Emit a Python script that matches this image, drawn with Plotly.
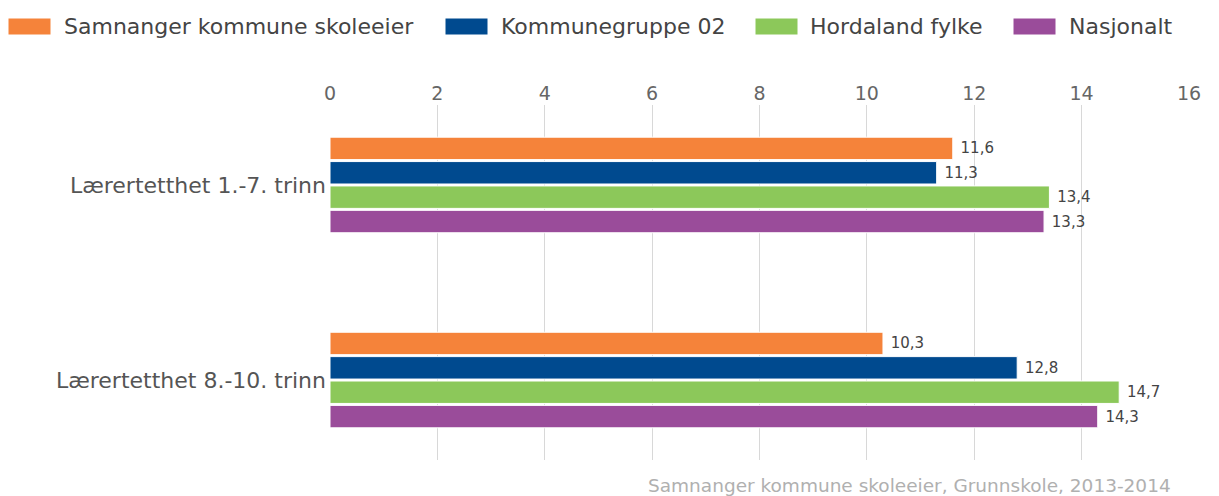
import plotly.graph_objects as go

categories = ["Lærertetthet 1.-7. trinn", "Lærertetthet 8.-10. trinn"]
series_names = ["Samnanger kommune skoleeier", "Kommunegruppe 02", "Hordaland fylke", "Nasjonalt"]
samnanger = [11.6, 10.3]
kommunegruppe = [11.3, 12.8]
hordaland = [13.4, 14.7]
nasjonalt = [13.3, 14.3]
x_ticks = [0, 2, 4, 6, 8, 10, 12, 14, 16]
credit = "Samnanger kommune skoleeier, Grunnskole, 2013-2014"

colors = ["#f5833a", "#004a8f", "#8cc85a", "#9a4c9a"]
values = [samnanger, kommunegruppe, hordaland, nasjonalt]

# page body has an 8px margin; compensate so the figure fills the window
OFF = 8
W, H = 1219 - OFF, 496 - OFF
L, R, T, B = 330 - OFF, 30, 105 - OFF, 36
PW, PH = W - L - R, H - T - B


def px(xs):  # screen x pixel -> paper x
    return (xs - OFF - L) / PW


def py(ys):  # screen y pixel -> paper y
    return 1 - (ys - OFF - T) / PH


fig = go.Figure()
for name, vals, col in zip(series_names, values, colors):
    fig.add_trace(go.Bar(
        y=categories, x=vals, name=name, orientation="h",
        marker=dict(color=col, line=dict(color="white", width=1)),
        text=[" " + f"{v:.1f}".replace(".", ",") for v in vals],
        textposition="outside", cliponaxis=False,
        textfont=dict(family="DejaVu Sans", size=15, color="#444"),
        hoverinfo="skip", showlegend=False,
    ))

# custom legend (large swatches like the original)
legend_swatch_x = [8, 445, 755, 1013]
legend_text_x = [62, 499, 808, 1067]
shapes = []
annotations = []
for name, col, sx, tx in zip(series_names, colors, legend_swatch_x, legend_text_x):
    shapes.append(dict(type="rect", xref="paper", yref="paper",
                       x0=px(sx), x1=px(sx + 43), y0=py(35), y1=py(18),
                       fillcolor=col, line=dict(color="white", width=1)))
    annotations.append(dict(text=name, xref="paper", yref="paper", x=px(tx), y=py(26.5),
                            xanchor="left", yanchor="middle", showarrow=False,
                            font=dict(size=22, color="#444")))

annotations.append(dict(text=credit, xref="paper", yref="paper", x=px(1173), y=py(486),
                        xanchor="right", yanchor="middle", showarrow=False,
                        font=dict(size=18.5, color="#b0b0b0")))

fig.update_layout(
    width=W, height=H,
    margin=dict(l=L, r=R, t=T, b=B),
    barmode="group", bargap=0.5, bargroupgap=0.08,
    plot_bgcolor="white", paper_bgcolor="white",
    font=dict(family="DejaVu Sans", color="#555"),
    showlegend=False,
    xaxis=dict(side="top", range=[0, 16], tickvals=x_ticks, showgrid=True, gridcolor="#d8d8d8",
               gridwidth=1, zeroline=False, showline=False, ticks="",
               tickfont=dict(size=19, color="#666"), automargin=False),
    yaxis=dict(range=[1.41, -0.41], showgrid=False, zeroline=False, showline=False, ticks="",
               tickfont=dict(size=22, color="#555"), ticklabelstandoff=3, automargin=False),
    shapes=shapes,
    annotations=annotations,
)

fig.write_html("out.html")
